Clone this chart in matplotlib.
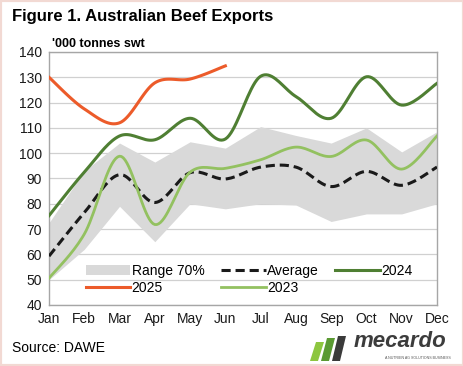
import numpy as np
import matplotlib.pyplot as plt
from matplotlib.patches import Rectangle, Polygon

plt.rcParams['font.family'] = ['Liberation Sans', 'DejaVu Sans']

months = ['Jan', 'Feb', 'Mar', 'Apr', 'May', 'Jun',
          'Jul', 'Aug', 'Sep', 'Oct', 'Nov', 'Dec']

range_low = [50, 62, 79, 65, 80, 78, 80, 79.5, 73, 76, 76, 80]
range_high = [72.5, 93, 104, 96.5, 104.5, 102, 110.5, 107, 104, 110, 100.5, 108.5]
average = [59.3, 76.5, 91.5, 80.5, 92.3, 89.8, 94.5, 94.5, 86.8, 92.8, 87.3, 94.5]
y2023 = [50.6, 68, 98.8, 71.8, 92.5, 94, 97.4, 102.4, 98.7, 105.2, 93.7, 106.8]
y2024 = [75.3, 92.5, 106.8, 105.3, 113.8, 105.6, 130.4, 122.4, 113.8, 130.2, 119, 127.6]
y2025 = [130, 117.5, 112, 127.8, 129.3, 134.5]


# Excel style smoothed line (Catmull-Rom through the points)
def smooth(vals, n=20):
    p = np.array(vals, dtype=float)
    x = np.arange(len(p), dtype=float)
    pts = np.column_stack([x, p])
    out = [pts[0]]
    for i in range(len(pts) - 1):
        p0 = pts[i - 1] if i > 0 else pts[i]
        p1 = pts[i]
        p2 = pts[i + 1]
        p3 = pts[i + 2] if i + 2 < len(pts) else pts[i + 1]
        c1 = p1 + (p2 - p0) / 6
        c2 = p2 - (p3 - p1) / 6
        t = np.linspace(0, 1, n)[1:, None]
        seg = ((1 - t) ** 3) * p1 + 3 * ((1 - t) ** 2) * t * c1 + 3 * (1 - t) * t ** 2 * c2 + t ** 3 * p2
        out.extend(seg)
    out = np.array(out)
    return out[:, 0], out[:, 1]


fig = plt.figure(figsize=(4.64, 3.66), dpi=100)
ax = fig.add_axes([0.1056, 0.1667, 0.8362, 0.6913])

x = np.arange(len(months))
ax.fill_between(x, range_low, range_high, color='#D9D9D9', lw=0, label='Range 70%', zorder=2)

xs, ys = smooth(average)
ax.plot(xs, ys, color='#1a1a1a', lw=2.2, ls=(0, (3, 1.6)), label='Average', zorder=4)
xs, ys = smooth(y2024)
ax.plot(xs, ys, color='#4F7F33', lw=2.2, label='2024', zorder=4)
xs, ys = smooth(y2025)
ax.plot(xs, ys, color='#EC5B2A', lw=2.2, label='2025', zorder=4)
xs, ys = smooth(y2023)
ax.plot(xs, ys, color='#93C160', lw=2.0, label='2023', zorder=4)

ax.set_xlim(0, 11)
ax.set_ylim(40, 140)
ax.set_yticks(range(40, 141, 10))
ax.set_xticks(x)
ax.set_xticklabels(months)
ax.tick_params(length=0, labelsize=10, colors='#1a1a1a', pad=5)
ax.yaxis.grid(True, color='#D0D0D0', lw=0.9, zorder=0)
ax.set_axisbelow(True)
for s in ax.spines.values():
    s.set_color('#A6A6A6')
    s.set_linewidth(1)

handles, labels = ax.get_legend_handles_labels()
order = [labels.index(l) for l in ['Range 70%', '2025', 'Average', '2023', '2024']]
ax.legend([handles[i] for i in order], [labels[i] for i in order],
          ncol=3, loc='lower left', bbox_to_anchor=(0.07, 0.0), frameon=False,
          fontsize=10, handlelength=3.2, handletextpad=0.1, columnspacing=1.2,
          labelspacing=0.25, borderaxespad=0.3)

fig.text(0.026, 0.955, 'Figure 1. Australian Beef Exports', fontsize=12,
         fontweight='bold', va='center', ha='left')
fig.text(0.112, 0.88, "'000 tonnes swt", fontsize=9, fontweight='bold',
         va='center', ha='left')
fig.text(0.026, 0.05, 'Source: DAWE', fontsize=10, va='center', ha='left')

# mecardo logo
bars = [(310, 342, '#8DC63F'), (321, 338, '#5a9a32'), (332, 336, '#3a3a3a')]
for bx, top, c in bars:
    poly = Polygon([(bx / 464, 1 - 361 / 366), ((bx + 8) / 464, 1 - 361 / 366),
                    ((bx + 14) / 464, 1 - top / 366), ((bx + 6) / 464, 1 - top / 366)],
                   closed=True, transform=fig.transFigure, color=c, lw=0)
    fig.patches.append(poly)
fig.text(0.762, 0.068, 'mecardo', fontsize=16, fontweight='bold', style='italic',
         color='#3c3c3c', va='center', ha='left')
fig.text(0.972, 0.022, 'A NUTRIEN AG SOLUTIONS BUSINESS', fontsize=2.6,
         color='#555555', va='center', ha='right')

fig.patches.append(Rectangle((0, 0), 1, 1, transform=fig.transFigure,
                             fill=False, ec='#F2D9D3', lw=3))

fig.savefig('out.png', dpi=100)
